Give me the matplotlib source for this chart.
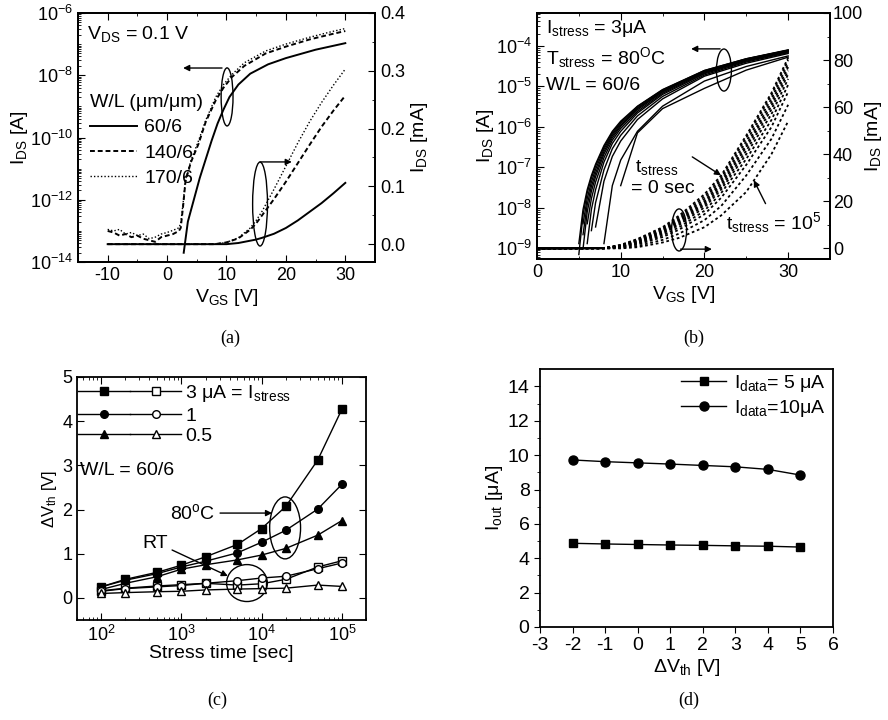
import numpy as np
import matplotlib
matplotlib.use('Agg')
import matplotlib.pyplot as plt
from matplotlib import ticker
from matplotlib.patches import Ellipse
from matplotlib.legend_handler import HandlerTuple

plt.rcParams['font.family'] = ['Liberation Sans', 'DejaVu Sans']
plt.rcParams['mathtext.fontset'] = 'custom'
plt.rcParams['mathtext.rm'] = 'Liberation Sans'
plt.rcParams['mathtext.default'] = 'regular'
plt.rcParams['axes.unicode_minus'] = False
plt.rcParams['axes.linewidth'] = 1.3

nan = np.nan

# ---------------- (a) transfer curves, V_DS = 0.1 V ----------------
# log axis (values are log10 of I_DS in A)
a_vgs_60 = [2.8, 3.5, 4.5, 5.5, 6.5, 7.5, 8.5, 9.5, 10.5, 12, 14, 17, 20, 25, 30]
a_log_60 = [-13.7, -12.7, -12.0, -11.3, -10.7, -10.1, -9.55, -9.1, -8.7, -8.3,
            -7.95, -7.65, -7.45, -7.18, -6.97]
a_vgs_wide = [-10, -9, -8, -7, -6, -5, -4, -3, -2, -1, 0, 1, 2, 2.3, 2.7, 3.1,
              4, 5.3, 6.5, 8.2, 9.5, 10.9, 13, 16.6, 20, 24, 27.7, 30]
a_log_140 = [-13.0, -13.05, -13.15, -13.1, -13.2, -13.15, -13.25, -13.3, -13.35,
             -13.2, -13.15, -13.1, -13.0, -12.9, -12.2, -11.4, -10.8, -10.2, -9.5,
             -8.8, -8.4, -8.06, -7.7, -7.3, -7.08, -6.85, -6.68, -6.58]
a_log_170 = [-12.95, -13.0, -12.95, -13.1, -13.05, -13.15, -13.1, -13.25, -13.2,
             -13.1, -13.05, -12.98, -12.9, -12.75, -12.1, -11.35, -10.75, -10.1,
             -9.45, -8.7, -8.3, -7.98, -7.6, -7.22, -7.0, -6.78, -6.6, -6.5]
# linear axis (mA)
a_vgs_lin = [-10, 8, 10, 12, 14, 15, 16, 18, 20, 22, 24, 26, 28, 30]
a_lin_60 = [0, 0, 0, 0.002, 0.006, 0.008, 0.011, 0.018, 0.028, 0.041, 0.056, 0.071, 0.088, 0.106]
a_lin_140 = [0, 0, 0.003, 0.01, 0.025, 0.036, 0.05, 0.078, 0.108, 0.14, 0.172, 0.203, 0.231, 0.257]
a_lin_170 = [0, 0, 0.003, 0.011, 0.028, 0.041, 0.057, 0.095, 0.135, 0.175, 0.212, 0.245, 0.275, 0.303]

# ---------------- (b) curves after stress (t = 0 ... 1e5 s) ----------------
b_vgs_log = [5, 5.5, 6, 6.5, 7, 8, 9, 10, 12, 15, 20, 25, 30]
b_log = [
    [-8.88, -8.04, -7.55, -7.20, -6.92, -6.46, -6.11, -5.86, -5.49, -5.08, -4.61, -4.32, -4.10],
    [-9.15, -8.17, -7.63, -7.26, -6.97, -6.50, -6.14, -5.89, -5.50, -5.09, -4.61, -4.32, -4.11],
    [nan, -8.39, -7.77, -7.36, -7.05, -6.55, -6.18, -5.92, -5.53, -5.11, -4.63, -4.33, -4.11],
    [nan, -8.66, -7.92, -7.47, -7.14, -6.61, -6.22, -5.96, -5.55, -5.13, -4.64, -4.34, -4.12],
    [nan, -9.01, -8.10, -7.59, -7.23, -6.67, -6.27, -5.99, -5.58, -5.14, -4.65, -4.35, -4.13],
    [nan, nan, -8.39, -7.77, -7.36, -6.76, -6.33, -6.04, -5.62, -5.17, -4.67, -4.36, -4.14],
    [nan, nan, -8.88, -8.04, -7.55, -6.87, -6.41, -6.11, -5.66, -5.20, -4.69, -4.38, -4.15],
    [nan, nan, nan, -8.56, -7.87, -7.06, -6.54, -6.21, -5.73, -5.25, -4.72, -4.40, -4.17],
    [nan, nan, nan, nan, -8.47, -7.34, -6.73, -6.35, -5.82, -5.31, -4.75, -4.43, -4.19],
    [nan, nan, nan, nan, nan, -8.88, -7.45, -6.82, -6.11, -5.49, -4.87, -4.51, -4.25],
    [nan, nan, nan, nan, nan, nan, nan, -7.45, -6.15, -5.55, -5.05, -4.60, -4.28],
]
b_vgs_lin = [0, 8, 10, 12, 15, 17, 20, 22, 25, 28, 30]
b_lin = [
    [0, 0.2, 1.5, 4.0, 9.0, 14.0, 23.0, 31.0, 48.0, 66.0, 81.0],
    [0, 0.2, 1.4, 3.7, 8.5, 13.3, 22.0, 30.0, 47.0, 65.0, 80.0],
    [0, 0.15, 1.2, 3.4, 8.0, 12.6, 21.0, 29.0, 45.5, 63.5, 78.5],
    [0, 0.1, 1.1, 3.1, 7.6, 12.0, 20.0, 28.0, 44.0, 62.0, 77.0],
    [0, 0.1, 1.0, 2.9, 7.2, 11.4, 19.2, 27.0, 43.0, 60.5, 75.5],
    [0, 0.1, 0.9, 2.6, 6.7, 10.7, 18.4, 26.0, 41.5, 59.0, 74.0],
    [0, 0.05, 0.75, 2.3, 6.2, 10.0, 17.4, 25.0, 40.0, 57.0, 72.0],
    [0, 0, 0.6, 2.0, 5.5, 9.0, 16.0, 23.5, 38.0, 54.5, 69.5],
    [0, 0, 0.45, 1.6, 4.8, 8.0, 14.5, 21.5, 35.5, 51.5, 66.5],
    [0, 0, 0.2, 1.0, 3.6, 6.3, 12.0, 18.0, 31.0, 46.5, 61.0],
    [0, 0, 0, 0.5, 2.5, 4.5, 9.0, 14.0, 24.0, 40.0, 54.0],
]

# ---------------- (c) threshold shift vs stress time ----------------
c_time = [1e2, 2e2, 5e2, 1e3, 2e3, 5e3, 1e4, 2e4, 5e4, 1e5]
dvth_3uA_80C = [0.25, 0.42, 0.58, 0.74, 0.93, 1.21, 1.57, 2.07, 3.12, 4.27]
dvth_1uA_80C = [0.25, 0.40, 0.55, 0.70, 0.83, 1.02, 1.26, 1.53, 2.01, 2.57]
dvth_05uA_80C = [0.19, 0.33, 0.48, 0.65, 0.75, 0.86, 0.97, 1.12, 1.42, 1.75]
dvth_3uA_RT = [0.16, 0.22, 0.27, 0.30, 0.33, 0.29, 0.32, 0.42, 0.70, 0.84]
dvth_1uA_RT = [0.15, 0.21, 0.25, 0.28, 0.33, 0.39, 0.45, 0.49, 0.66, 0.79]
dvth_05uA_RT = [0.10, 0.12, 0.14, 0.15, 0.18, 0.20, 0.21, 0.22, 0.29, 0.26]

# ---------------- (d) output current vs dVth ----------------
d_dvth = [-2, -1, 0, 1, 2, 3, 4, 5]
iout_5uA = [4.87, 4.83, 4.80, 4.77, 4.75, 4.72, 4.70, 4.65]
iout_10uA = [9.72, 9.62, 9.55, 9.48, 9.40, 9.32, 9.17, 8.84]

fig = plt.figure(figsize=(8.88, 7.2), dpi=100)
serif = ['Liberation Serif', 'DejaVu Serif']
arrow = dict(arrowstyle='-|>', color='k', lw=1, mutation_scale=9, shrinkA=0, shrinkB=0)


def log_axis(ax, step_major):
    ax.yaxis.set_major_locator(ticker.LogLocator(base=step_major, numticks=30))
    ax.yaxis.set_minor_locator(ticker.LogLocator(base=10.0, subs=np.arange(1, 10), numticks=60))
    ax.yaxis.set_major_formatter(ticker.LogFormatterMathtext(base=10))
    ax.yaxis.set_minor_formatter(ticker.NullFormatter())


# ===== (a) =====
ax = fig.add_axes([0.0878, 0.636, 0.3345, 0.346])
ax.plot(a_vgs_60, np.power(10.0, a_log_60), 'k-', lw=1.4, label='60/6')
ax.plot(a_vgs_wide, np.power(10.0, a_log_140), 'k', ls=(0, (2.5, 1.5)), lw=1.4, label='140/6')
ax.plot(a_vgs_wide, np.power(10.0, a_log_170), 'k', ls=(0, (1, 1.5)), lw=1.0, label='170/6')
ax.set_yscale('log')
ax.set_xlim(-15, 35)
ax.set_ylim(1e-14, 1e-6)
log_axis(ax, 100.0)
ax.xaxis.set_major_locator(ticker.MultipleLocator(10))
ax.xaxis.set_minor_locator(ticker.MultipleLocator(5))
ax.tick_params(which='both', direction='in', top=True, labelsize=13)
ax.tick_params(which='major', length=5)
ax.tick_params(which='minor', length=2.5)
ax.set_xlabel('V$_{GS}$ [V]', fontsize=14, labelpad=2)
ax.set_ylabel('I$_{DS}$ [A]', fontsize=14, labelpad=0)
ax2 = ax.twinx()
ax2.plot(a_vgs_lin, a_lin_60, 'k-', lw=1.4)
ax2.plot(a_vgs_lin, a_lin_140, 'k', ls=(0, (2.5, 1.5)), lw=1.4)
ax2.plot(a_vgs_lin, a_lin_170, 'k', ls=(0, (1, 1.5)), lw=1.0)
ax2.set_ylim(-0.031, 0.4)
ax2.yaxis.set_major_locator(ticker.MultipleLocator(0.1))
ax2.yaxis.set_major_formatter(ticker.FormatStrFormatter('%.1f'))
ax2.yaxis.set_minor_locator(ticker.MultipleLocator(0.05))
ax2.tick_params(which='both', direction='in', labelsize=13)
ax2.tick_params(which='major', length=5)
ax2.tick_params(which='minor', length=2.5)
ax2.set_ylabel('I$_{DS}$ [mA]', fontsize=14, labelpad=3)
h, l = ax.get_legend_handles_labels()
ax2.legend(h, l, title='W/L (\u03bcm/\u03bcm)', loc='upper left', bbox_to_anchor=(0.04, 0.675),
           frameon=False, fontsize=14, title_fontsize=14, alignment='left', handlelength=2.4,
           handletextpad=0.4, labelspacing=0.4, borderpad=0, borderaxespad=0)
ax2.text(0.03, 0.915, 'V$_{DS}$ = 0.1 V', transform=ax2.transAxes, fontsize=14, va='center')
ax2.add_patch(Ellipse((0.502, 0.663), 0.04, 0.233, transform=ax2.transAxes, fill=False, lw=1))
ax2.annotate('', xy=(0.354, 0.779), xytext=(0.485, 0.779), xycoords='axes fraction', arrowprops=arrow)
ax2.add_patch(Ellipse((0.613, 0.233), 0.05, 0.337, transform=ax2.transAxes, fill=False, lw=1))
ax2.annotate('', xy=(0.72, 0.402), xytext=(0.613, 0.402), xycoords='axes fraction', arrowprops=arrow)

# ===== (b) =====
ax = fig.add_axes([0.6047, 0.6403, 0.33, 0.3417])
for row in b_log:
    ax.plot(b_vgs_log, np.power(10.0, row), 'k-', lw=1.0)
ax.set_yscale('log')
ax.set_xlim(0, 35)
ax.set_ylim(10 ** -9.26, 10 ** -3.19)
log_axis(ax, 10.0)
ax.xaxis.set_major_locator(ticker.MultipleLocator(10))
ax.xaxis.set_minor_locator(ticker.MultipleLocator(5))
ax.tick_params(which='both', direction='in', top=True, labelsize=13)
ax.tick_params(which='major', length=5)
ax.tick_params(which='minor', length=2.5)
ax.set_xlabel('V$_{GS}$ [V]', fontsize=14, labelpad=2)
ax.set_ylabel('I$_{DS}$ [A]', fontsize=14, labelpad=0)
ax2 = ax.twinx()
for row in b_lin:
    ax2.plot(b_vgs_lin, row, 'k', ls=(0, (1.5, 1.5)), lw=1.3)
    ax2.plot(b_vgs_lin[:2], row[:2], 'k-', lw=1.3)
ax2.set_ylim(-4.5, 100)
ax2.yaxis.set_major_locator(ticker.MultipleLocator(20))
ax2.yaxis.set_minor_locator(ticker.MultipleLocator(10))
ax2.tick_params(which='both', direction='in', labelsize=13, pad=2)
ax2.tick_params(which='major', length=5)
ax2.tick_params(which='minor', length=2.5)
ax2.set_ylabel('I$_{DS}$ [mA]', fontsize=14, labelpad=0)
ax2.text(0.03, 0.935, 'I$_{stress}$ = 3\u03bcA', transform=ax2.transAxes, fontsize=14, va='center')
ax2.text(0.03, 0.82, 'T$_{stress}$ = 80$^{O}$C', transform=ax2.transAxes, fontsize=14, va='center')
ax2.text(0.03, 0.705, 'W/L = 60/6', transform=ax2.transAxes, fontsize=14, va='center')
ax2.text(0.335, 0.37, 't$_{stress}$', transform=ax2.transAxes, fontsize=14, va='center')
ax2.text(0.32, 0.285, '= 0 sec', transform=ax2.transAxes, fontsize=14, va='center')
ax2.text(0.645, 0.15, 't$_{stress}$ = 10$^{5}$', transform=ax2.transAxes, fontsize=14, va='center')
ax2.annotate('', xy=(0.628, 0.34), xytext=(0.53, 0.415), xycoords='axes fraction', arrowprops=arrow)
ax2.annotate('', xy=(0.74, 0.32), xytext=(0.78, 0.225), xycoords='axes fraction', arrowprops=arrow)
ax2.add_patch(Ellipse((0.638, 0.768), 0.051, 0.171, transform=ax2.transAxes, fill=False, lw=1))
ax2.annotate('', xy=(0.526, 0.854), xytext=(0.625, 0.854), xycoords='axes fraction', arrowprops=arrow)
ax2.add_patch(Ellipse((0.485, 0.118), 0.051, 0.171, transform=ax2.transAxes, fill=False, lw=1))
ax2.annotate('', xy=(0.597, 0.04), xytext=(0.49, 0.04), xycoords='axes fraction', arrowprops=arrow)

# ===== (c) =====
ax = fig.add_axes([0.0867, 0.1389, 0.3255, 0.3375])
mk = dict(color='k', lw=1.0, ms=5.5)
h3 = ax.plot(c_time, dvth_3uA_80C, marker='s', **mk)[0]
h1 = ax.plot(c_time, dvth_1uA_80C, marker='o', **mk)[0]
h05 = ax.plot(c_time, dvth_05uA_80C, marker='^', **mk)[0]
o3 = ax.plot(c_time, dvth_3uA_RT, marker='s', mfc='white', **mk)[0]
o1 = ax.plot(c_time, dvth_1uA_RT, marker='o', mfc='white', **mk)[0]
o05 = ax.plot(c_time, dvth_05uA_RT, marker='^', mfc='white', **mk)[0]
ax.set_xscale('log')
ax.set_xlim(50, 2e5)
ax.set_ylim(-0.5, 5)
ax.xaxis.set_major_locator(ticker.LogLocator(base=10, numticks=10))
ax.xaxis.set_minor_locator(ticker.LogLocator(base=10, subs=np.arange(2, 10), numticks=60))
ax.xaxis.set_major_formatter(ticker.LogFormatterMathtext(base=10))
ax.xaxis.set_minor_formatter(ticker.NullFormatter())
ax.yaxis.set_major_locator(ticker.MultipleLocator(1))
ax.tick_params(which='both', direction='in', top=True, right=True, labelsize=13)
ax.tick_params(which='major', length=5)
ax.tick_params(which='minor', length=2.5)
ax.set_xlabel('Stress time [sec]', fontsize=14, labelpad=0)
ax.set_ylabel('\u0394V$_{th}$ [V]', fontsize=12, labelpad=2)
ax.legend([(h3, o3), (h1, o1), (h05, o05)], ['3 \u03bcA = I$_{stress}$', '1', '0.5'],
          handler_map={tuple: HandlerTuple(ndivide=None, pad=0)}, loc='upper left',
          bbox_to_anchor=(0.005, 0.975), frameon=False, fontsize=14, handlelength=5.3,
          handletextpad=0.2, labelspacing=0.15, borderpad=0, borderaxespad=0)
ax.text(0.01, 0.615, 'W/L = 60/6', transform=ax.transAxes, fontsize=14, va='center')
ax.text(0.48, 0.44, '80$^{o}$C', transform=ax.transAxes, fontsize=14, va='center', ha='right')
ax.annotate('', xy=(0.675, 0.44), xytext=(0.495, 0.44), xycoords='axes fraction', arrowprops=arrow)
ax.add_patch(Ellipse((0.72, 0.379), 0.107, 0.255, transform=ax.transAxes, fill=False, lw=1))
ax.text(0.225, 0.313, 'RT', transform=ax.transAxes, fontsize=14, va='center')
ax.annotate('', xy=(0.522, 0.181), xytext=(0.329, 0.288), xycoords='axes fraction', arrowprops=arrow)
ax.add_patch(Ellipse((0.588, 0.152), 0.141, 0.152, transform=ax.transAxes, fill=False, lw=1))

# ===== (d) =====
ax = fig.add_axes([0.6081, 0.1292, 0.33, 0.358])
ax.plot(d_dvth, iout_5uA, 'k-', marker='s', ms=6, lw=1.0, label='I$_{data}$= 5 \u03bcA')
ax.plot(d_dvth, iout_10uA, 'k-', marker='o', ms=6.5, lw=1.0, label='I$_{data}$=10\u03bcA')
ax.set_xlim(-3, 6)
ax.set_ylim(0, 15)
ax.xaxis.set_major_locator(ticker.MultipleLocator(1))
ax.yaxis.set_major_locator(ticker.FixedLocator([0, 2, 4, 6, 8, 10, 12, 14]))
ax.yaxis.set_minor_locator(ticker.FixedLocator([1, 3, 5, 7, 9, 11, 13]))
ax.tick_params(which='both', direction='out', labelsize=14)
ax.tick_params(which='major', length=4)
ax.tick_params(which='minor', length=2.5)
ax.set_xlabel('\u0394V$_{th}$ [V]', fontsize=14, labelpad=2)
ax.set_ylabel('I$_{out}$ [\u03bcA]', fontsize=14, labelpad=2)
ax.legend(loc='upper right', bbox_to_anchor=(0.975, 0.985), frameon=False, fontsize=14,
          handlelength=2.3, handletextpad=0.4, labelspacing=0.2, borderpad=0, borderaxespad=0)

# panel captions
fig.text(0.259, 0.530, '(a)', family=serif, fontsize=13, ha='center', va='center')
fig.text(0.781, 0.530, '(b)', family=serif, fontsize=13, ha='center', va='center')
fig.text(0.245, 0.027, '(c)', family=serif, fontsize=13, ha='center', va='center')
fig.text(0.776, 0.027, '(d)', family=serif, fontsize=13, ha='center', va='center')

fig.savefig('out.png', dpi=100)
